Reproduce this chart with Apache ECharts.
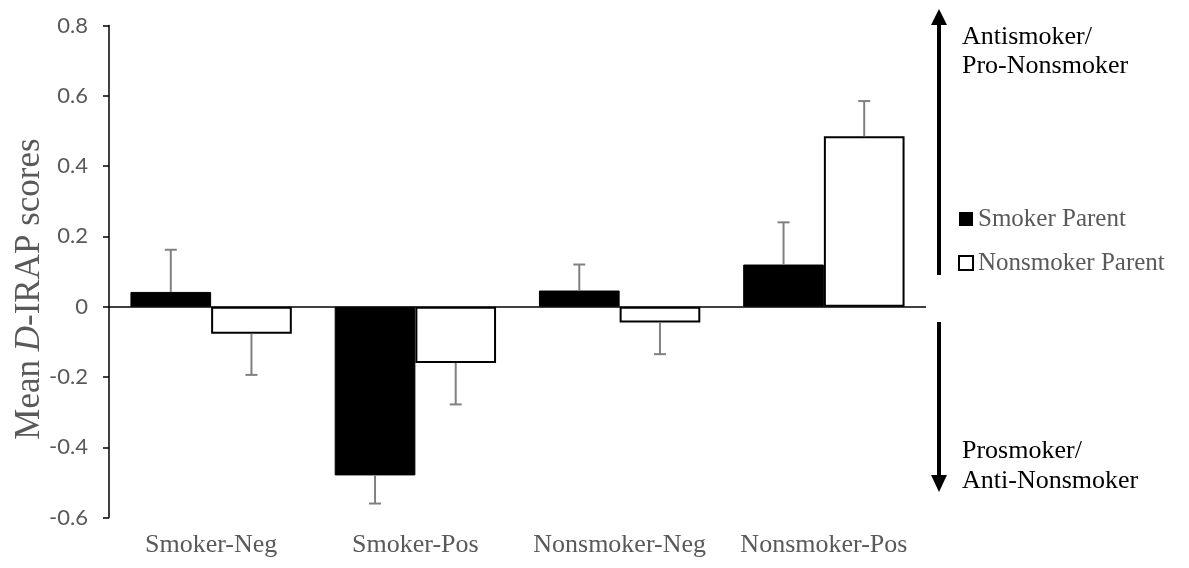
<!DOCTYPE html>
<html>
<head>
<meta charset="utf-8">
<script src="https://cdn.jsdelivr.net/npm/echarts@6/dist/echarts.min.js"></script>
<style>
html,body{margin:0;padding:0;background:#fff;}
#chart{width:1189px;height:568px;}
</style>
</head>
<body>
<div id="chart"></div>
<script>
const categories = ['Smoker-Neg', 'Smoker-Pos', 'Nonsmoker-Neg', 'Nonsmoker-Pos'];
const smokerParent = [0.042, -0.48, 0.046, 0.12];
const smokerParentErr = [0.12, 0.08, 0.074, 0.12];
const nonsmokerParent = [-0.077, -0.16, -0.045, 0.485];
const nonsmokerParentErr = [0.117, 0.118, 0.09, 0.1];
const yTicks = { min: -0.6, max: 0.8, interval: 0.2 };

const CAT_GAP = 0.21;
const SERIF = '"Liberation Serif", "Times New Roman", serif';
const SANS = 'Lato, "Open Sans", sans-serif';

function errSeries(name, values, errs, side) {
  return {
    name: name,
    type: 'custom',
    silent: true,
    z: 5,
    data: values.map((v, i) => [i, v, errs[i]]),
    encode: { x: 0, y: 1 },
    renderItem: function (params, api) {
      const idx = api.value(0), v = api.value(1), e = api.value(2);
      const base = api.coord([idx, v]);
      const catW = api.size([1, 0])[0];
      const bw = catW * (1 - CAT_GAP) / 2;
      const x = base[0] + side * bw / 2;
      const end = api.coord([idx, v + (v >= 0 ? 1 : -1) * e]);
      const st = { stroke: '#808080', lineWidth: 2 };
      return {
        type: 'group',
        children: [
          { type: 'line', shape: { x1: x, y1: base[1], x2: x, y2: end[1] }, style: st },
          { type: 'line', shape: { x1: x - 6, y1: end[1], x2: x + 6, y2: end[1] }, style: st }
        ]
      };
    }
  };
}

const chart = echarts.init(document.getElementById('chart'));
chart.setOption({
  animation: false,
  backgroundColor: '#fff',
  grid: { left: 109, right: 263, top: 25.5, bottom: 50.4, containLabel: false, outerBoundsMode: 'none' },
  legend: {
    left: 958, top: 206, orient: 'vertical', itemWidth: 14, itemHeight: 14, itemGap: 18,
    padding: 0,
    selectedMode: false,
    textStyle: { fontFamily: SERIF, fontSize: 25, color: '#595959', lineHeight: 26 },
    data: [
      { name: 'Smoker Parent', icon: 'rect', itemStyle: { color: '#000', borderWidth: 0 } },
      { name: 'Nonsmoker Parent', icon: 'rect', itemStyle: { color: '#fff', borderColor: '#000', borderWidth: 2 } }
    ]
  },
  xAxis: {
    type: 'category',
    data: categories,
    axisLine: { show: false, onZero: false },
    axisTick: { show: false },
    axisLabel: { interval: 0, fontFamily: SERIF, fontSize: 26, color: '#595959', margin: 15 },
    splitLine: { show: false }
  },
  yAxis: {
    type: 'value',
    min: yTicks.min, max: yTicks.max, interval: yTicks.interval,
    name: '{a|Mean }{i|D}{a|-IRAP scores}',
    nameLocation: 'middle',
    nameRotate: 90,
    nameGap: 62,
    nameMoveOverlap: false,
    nameTextStyle: {
      padding: [0, 35, 0, 0],
      rich: {
        a: { fontFamily: SERIF, fontSize: 35, color: '#595959' },
        i: { fontFamily: SERIF, fontSize: 35, color: '#595959', fontStyle: 'italic' }
      }
    },
    axisLine: { show: true, lineStyle: { color: '#000', width: 1.5 } },
    axisTick: { show: true, length: 6, lineStyle: { color: '#000', width: 1.5 } },
    axisLabel: { fontFamily: SANS, fontSize: 22, color: '#595959', margin: 21 },
    splitLine: { show: false }
  },
  series: [
    {
      name: 'Smoker Parent', type: 'bar', data: smokerParent,
      barGap: '0%', barCategoryGap: (CAT_GAP * 100) + '%',
      itemStyle: { color: '#000', borderColor: '#000', borderWidth: 1 },
      markLine: {
        silent: true, symbol: 'none', label: { show: false },
        lineStyle: { color: '#000', width: 1.5, type: 'solid' },
        data: [{ yAxis: 0 }]
      }
    },
    {
      name: 'Nonsmoker Parent', type: 'bar', data: nonsmokerParent,
      barGap: '0%', barCategoryGap: (CAT_GAP * 100) + '%',
      itemStyle: { color: '#fff', borderColor: '#000', borderWidth: 2 }
    },
    errSeries('Smoker Parent err', smokerParent, smokerParentErr, -1),
    errSeries('Nonsmoker Parent err', nonsmokerParent, nonsmokerParentErr, 1)
  ],
  graphic: [
    { type: 'line', shape: { x1: 939, y1: 22, x2: 939, y2: 275 }, style: { stroke: '#000', lineWidth: 4 } },
    { type: 'polygon', shape: { points: [[939, 9], [931, 25], [947, 25]] }, style: { fill: '#000' } },
    { type: 'line', shape: { x1: 939, y1: 322, x2: 939, y2: 478 }, style: { stroke: '#000', lineWidth: 4 } },
    { type: 'polygon', shape: { points: [[939, 492], [931, 475], [947, 475]] }, style: { fill: '#000' } },
    { type: 'text', left: 962, top: 23, style: { text: 'Antismoker/\nPro-Nonsmoker', font: '26px ' + SERIF, fill: '#000', lineHeight: 29 } },
    { type: 'text', left: 962, top: 436, style: { text: 'Prosmoker/\nAnti-Nonsmoker', font: '26px ' + SERIF, fill: '#000', lineHeight: 30 } }
  ]
});
</script>
</body>
</html>
